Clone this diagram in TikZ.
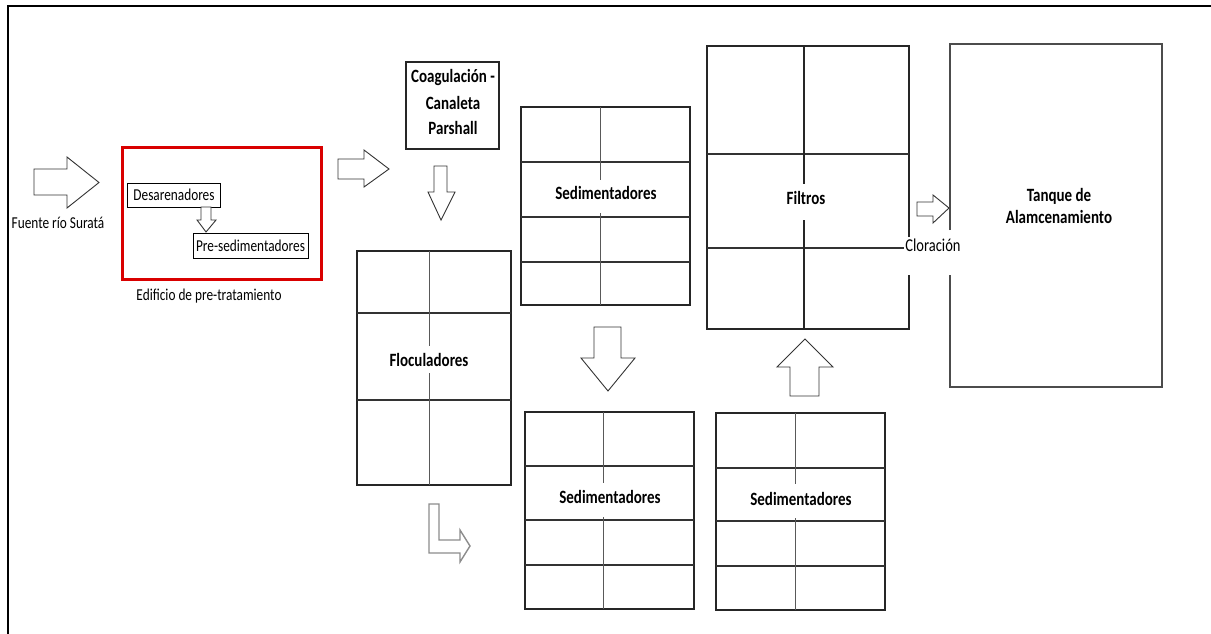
\documentclass[tikz,border=0pt]{standalone}
\usepackage{fontspec}
\setmainfont{Carlito}
\usepackage{graphicx}
\newcommand{\vt}[1]{\scalebox{1}[1.25]{#1}}
\tikzset{
  lbl/.style={font=\fontsize{13.3}{15}\selectfont, inner sep=0pt, text=black},
  blbl/.style={font=\bfseries\fontsize{15}{17}\selectfont, inner sep=0pt, text=black},
  box/.style={draw=black!85, line width=1.4pt},
  smallbox/.style={draw=black, line width=0.9pt},
  hln/.style={draw=black!80, line width=1.3pt},
  vln/.style={draw=black!65, line width=1pt},
  barrow/.style={draw=black!80, line width=0.9pt, fill=white, line join=miter},
  garrow/.style={draw=black!45, line width=1.4pt, fill=white, line join=miter},
  redbox/.style={draw=red!85!black, line width=3pt}
}
\begin{document}
\begin{tikzpicture}[x=1pt,y=-1pt]
\useasboundingbox (0,0) rectangle (1211,634);
% outer frame (left and top only)
\draw[line width=2.5pt, black] (8,634) -- (8,6) -- (1211,6);

% source arrow
\draw[barrow] (34,169) -- (67,169) -- (67,157) -- (99,182.5) -- (67,208) -- (67,195) -- (34,195) -- cycle;
\node[lbl] (fuente) at (58,223) {\vt{Fuente río Suratá}};

% pre-treatment building
\node[redbox, minimum width=199pt, minimum height=132pt, inner sep=0pt] (edif) at (221.5,213) {};
\node[lbl] (edifl) at (209,296) {\vt{Edificio de pre-tratamiento}};
\node[smallbox, minimum width=93pt, minimum height=24pt, inner sep=0pt] (desa) at (173.5,195) {};
\node[lbl] (desal) at (174,195) {\vt{Desarenadores}};
\draw[barrow] (201,207) -- (211,207) -- (211,220) -- (216,220) -- (206,232) -- (197,220) -- (201,220) -- cycle;
\node[smallbox, minimum width=115pt, minimum height=25pt, inner sep=0pt] (pres) at (250.5,245.5) {};
\node[lbl] (presl) at (250.5,245.5) {\vt{Pre-sedimentadores}};

% arrow to coagulation
\draw[barrow] (338,159) -- (364,159) -- (364,150) -- (389,169) -- (364,187) -- (364,179) -- (338,179) -- cycle;

% coagulation
\node[box, minimum width=93pt, minimum height=87pt, inner sep=0pt] (coag) at (452.5,105.5) {};
\node[blbl] (coag1) at (453,78) {\vt{Coagulación -}};
\node[blbl] (coag2) at (453,103) {\vt{Canaleta}};
\node[blbl] (coag3) at (453,128) {\vt{Parshall}};
\draw[barrow] (434,166) -- (447,166) -- (447,192) -- (455,192) -- (441,220) -- (428,192) -- (434,192) -- cycle;

% floculadores
\draw[box] (357,251) rectangle (511,485);
\draw[hln] (357,313) -- (511,313) (357,400) -- (511,400);
\draw[vln] (429,251) -- (429,346) (429,373) -- (429,485);
\node[blbl] (floc) at (429,360) {\vt{Floculadores}};
\draw[garrow] (429,504) -- (439,504) -- (439,540) -- (460,540) -- (460,530) -- (470,546) -- (460,562) -- (460,553) -- (429,553) -- cycle;

% sedimentadores top
\draw[box] (521,107) rectangle (690,305);
\draw[hln] (521,162) -- (690,162) (521,217) -- (690,217) (521,262) -- (690,262);
\draw[vln] (600,107) -- (600,180) (600,213) -- (600,305);
\node[blbl] (sed1) at (606,193) {\vt{Sedimentadores}};
\draw[barrow] (594,327) -- (621,327) -- (621,358) -- (635,358) -- (608,391) -- (581,358) -- (594,358) -- cycle;

% sedimentadores bottom left
\draw[box] (525,412) rectangle (694,609);
\draw[hln] (525,466) -- (694,466) (525,520) -- (694,520) (525,565) -- (694,565);
\draw[vln] (603,412) -- (603,483) (603,517) -- (603,609);
\node[blbl] (sed2) at (610,497) {\vt{Sedimentadores}};

% sedimentadores bottom right
\draw[box] (716,413) rectangle (885,610);
\draw[hln] (716,468) -- (885,468) (716,521) -- (885,521) (716,566) -- (885,566);
\draw[vln] (795,413) -- (795,484) (795,518) -- (795,610);
\node[blbl] (sed3) at (801,499) {\vt{Sedimentadores}};
\draw[barrow] (790,396) -- (790,367) -- (777,367) -- (805,339) -- (833,367) -- (819,367) -- (819,396) -- cycle;

% filtros
\draw[box] (909,237) -- (909,46) -- (707,46) -- (707,329) -- (909,329) -- (909,275);
\draw[hln] (707,154) -- (909,154) (707,248) -- (904,248);
\draw[box, line width=1.3pt] (804,46) -- (804,184) (804,220) -- (804,329);
\node[blbl] (filt) at (806,198) {\vt{Filtros}};

% cloracion
\draw[barrow] (917,202) -- (933,202) -- (933,195) -- (949,208) -- (933,223) -- (933,216) -- (917,216) -- cycle;
\node[font=\fontsize{14.5}{16}\selectfont, inner sep=0pt, text=black] (clor) at (933,245) {\vt{Cloración}};

% tanque
\draw[box, draw=black!70] (950,230) -- (950,44) -- (1162,44) -- (1162,387) -- (950,387) -- (950,275);
\node[blbl] (tanq1) at (1059,196) {\vt{Tanque de}};
\node[blbl] (tanq2) at (1059,217) {\vt{Alamcenamiento}};
\end{tikzpicture}
\end{document}
